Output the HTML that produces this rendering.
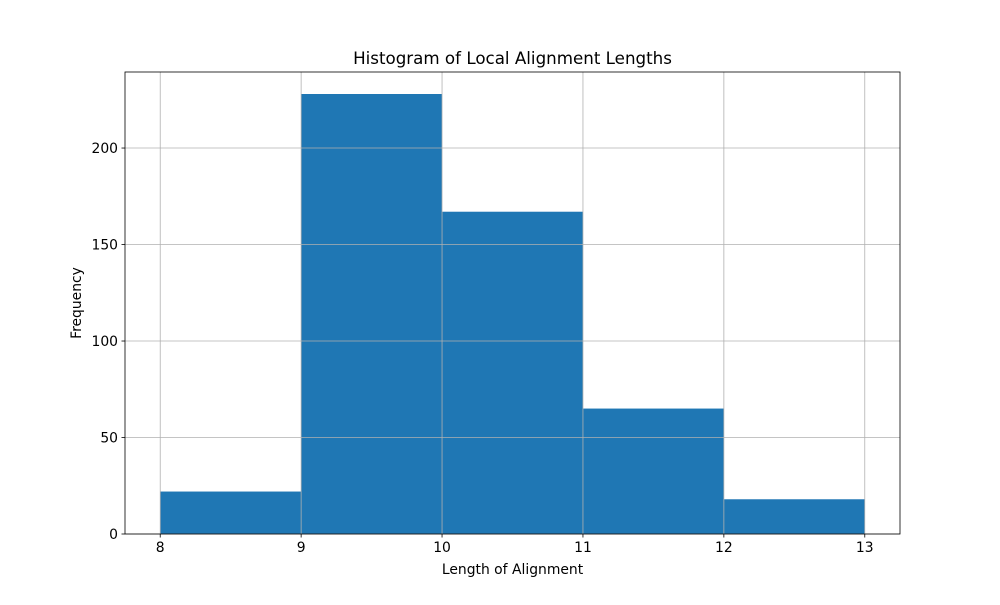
<!DOCTYPE html>
<html><head><meta charset="utf-8"><style>
body{margin:0;background:#fff;}
svg text{font-family:"DejaVu Sans","Liberation Sans",sans-serif;fill:#000;}
</style></head><body>
<svg id="chart" width="1000" height="600" viewBox="0 0 1000 600" xmlns="http://www.w3.org/2000/svg">
<rect width="1000" height="600" fill="#fff"/>
<g id="bars"></g>
<g id="grid"></g>
<rect x="125" y="72" width="775" height="462" fill="none" stroke="#000" stroke-width="0.8"/>
<g id="ticks"></g>
<text x="512.5" y="64" font-size="16.7" text-anchor="middle">Histogram of Local Alignment Lengths</text>
<text x="512.5" y="574" font-size="13.9" text-anchor="middle">Length of Alignment</text>
<text transform="translate(81,303) rotate(-90)" font-size="13.9" text-anchor="middle">Frequency</text>
</svg>
<script>
const binEdges=[8,9,10,11,12,13];
const counts=[22,228,167,65,18];
const xTicks=[8,9,10,11,12,13];
const yTicks=[0,50,100,150,200];
const xMin=7.75,xMax=13.25,yMin=0,yMax=239.4;
const L=125,R=900,T=72,B=534;
const sx=v=>L+(v-xMin)/(xMax-xMin)*(R-L);
const sy=v=>B-(v-yMin)/(yMax-yMin)*(B-T);
const NS="http://www.w3.org/2000/svg";
function mk(tag,attrs,parent){const e=document.createElementNS(NS,tag);for(const k in attrs)e.setAttribute(k,attrs[k]);parent.appendChild(e);return e;}
const bars=document.getElementById('bars'),grid=document.getElementById('grid'),ticks=document.getElementById('ticks');
counts.forEach((c,i)=>{
  const x0=sx(binEdges[i]),x1=sx(binEdges[i+1]);
  const r=mk('rect',{x:x0,y:sy(c),width:x1-x0,height:sy(0)-sy(c),fill:'#1f77b4'},bars);
  
  
});
xTicks.forEach(v=>{
  const x=sx(v);
  const g=mk('line',{x1:x,x2:x,y1:T,y2:B,stroke:'#b0b0b0','stroke-width':0.8},grid);
  
  
  const t=mk('line',{x1:x,x2:x,y1:B,y2:B+3.5,stroke:'#000','stroke-width':0.8},ticks);
  
  
  const l=mk('text',{x:x,y:B+18,'font-size':13.9,'text-anchor':'middle'},ticks);
  l.textContent=v;
  
  
});
yTicks.forEach(v=>{
  const y=sy(v);
  const g=mk('line',{x1:L,x2:R,y1:y,y2:y,stroke:'#b0b0b0','stroke-width':0.8},grid);
  
  
  const t=mk('line',{x1:L-3.5,x2:L,y1:y,y2:y,stroke:'#000','stroke-width':0.8},ticks);
  
  
  const l=mk('text',{x:L-7,y:y+5,'font-size':13.9,'text-anchor':'end'},ticks);
  l.textContent=v;
  
  
});
</script>
</body></html>
